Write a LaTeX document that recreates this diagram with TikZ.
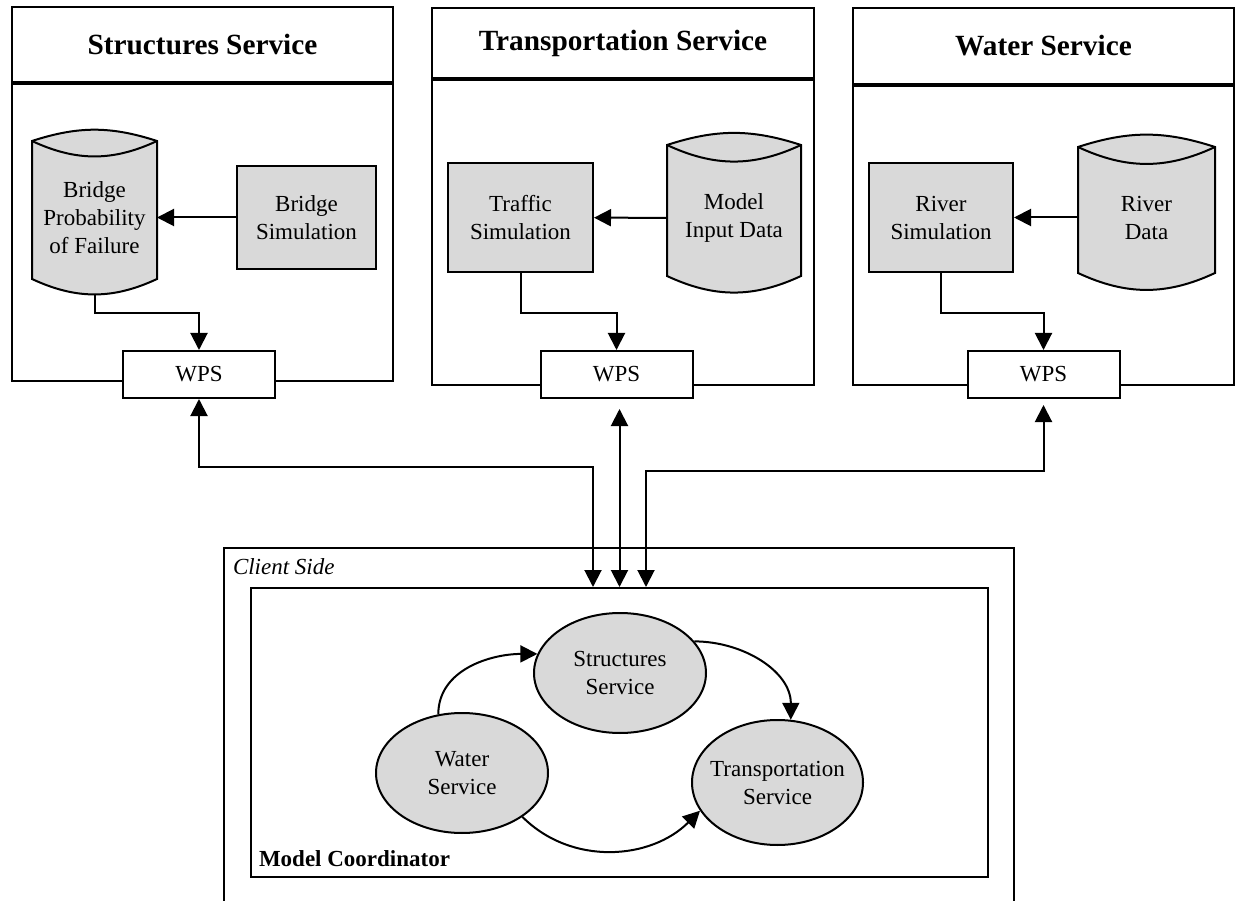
\documentclass[tikz,border=0pt]{standalone}
\usepackage{fontspec}
\setmainfont{Liberation Serif}
\usepackage{tikz}
\usetikzlibrary{calc, positioning, arrows.meta, shapes.geometric}

\newcommand{\diagfont}{\fontsize{23}{28}\selectfont}
% cylinder drawn from the anchors of an empty data node
\newcommand{\dbshape}[1]{%
    \filldraw[fill=gray!30] (#1.north west) to[bend left=18] (#1.north east) -- ($(#1.south east)+(0,15)$) to[bend left=25] ($(#1.south west)+(0,15)$) -- cycle;
    \draw (#1.north west) to[bend right=25] (#1.north east);}

\begin{document}
\begin{tikzpicture}[x=1pt, y=1pt, line width=2pt,
    svcbox/.style={rectangle, draw, anchor=north west, inner sep=0pt},
    svctitle/.style={svcbox, font=\fontsize{29.3}{32}\selectfont\bfseries},
    simbox/.style={rectangle, draw, fill=gray!30, align=center, inner sep=0pt, font=\diagfont},
    dbnode/.style={rectangle, inner sep=0pt},
    dbtext/.style={align=center, inner sep=0pt, font=\diagfont},
    wpsbox/.style={rectangle, draw, fill=white, minimum width=152pt, minimum height=47pt, inner sep=0pt, font=\diagfont},
    svcell/.style={ellipse, draw, fill=gray!30, align=center, inner xsep=-25pt, inner ysep=-15pt, font=\diagfont},
    arr/.style={-{Triangle[length=17pt,width=17pt]}},
    dblarr/.style={{Triangle[length=17pt,width=17pt]}-{Triangle[length=17pt,width=17pt]}}]
        \useasboundingbox (0,0) rectangle (1235,-901);

        % Service panels
        \node (strtitle) [svctitle, minimum width=381pt, minimum height=75pt] at (11,-6) {Structures Service};
        \node (strpanel) [svcbox, minimum width=381pt, minimum height=297pt] at (strtitle.south west) {};
        \node (trntitle) [svctitle, minimum width=382pt, minimum height=70pt] at (431,-7) {Transportation Service};
        \node (trnpanel) [svcbox, minimum width=382pt, minimum height=305pt] at (trntitle.south west) {};
        \node (wattitle) [svctitle, minimum width=381pt, minimum height=76pt] at (852,-7) {Water Service};
        \node (watpanel) [svcbox, minimum width=381pt, minimum height=299pt] at (wattitle.south west) {};

        % Nodes inside the panels
        \node (bsim) [simbox, minimum width=139pt, minimum height=103pt] at (306.5,-217.5) {Bridge\\Simulation};
        \node (tsim) [simbox, minimum width=145pt, minimum height=109pt] at (520.5,-217.5) {Traffic\\Simulation};
        \node (rsim) [simbox, minimum width=144pt, minimum height=109pt] at (941,-217.5) {River\\Simulation};

        \node (bpf) [dbnode, minimum width=123pt, minimum height=151pt] at (94.5,-217.5) {};
        \dbshape{bpf}
        \node (bpftext) [dbtext] at (bpf) {Bridge\\Probability\\of Failure};
        \node (mid) [dbnode, minimum width=132pt, minimum height=144pt] at (734,-218) {};
        \dbshape{mid}
        \node (midtext) [dbtext] at (mid) {Model\\Input Data};
        \node (rdat) [dbnode, minimum width=135pt, minimum height=139pt] at (1146.5,-217.5) {};
        \dbshape{rdat}
        \node (rdattext) [dbtext] at (rdat) {River\\Data};

        \node (swps) [wpsbox] at (199,-374.5) {WPS};
        \node (twps) [wpsbox] at (616.5,-374.5) {WPS};
        \node (wwps) [wpsbox] at (1043.5,-374.5) {WPS};

        % Client side
        \draw (224,-901) |- (1014,-548) -- (1014,-901);
        \node (client) [anchor=base west, font=\diagfont\itshape, inner sep=0pt] at (232,-574) {Client Side};
        \node (mc) [rectangle, draw, minimum width=737pt, minimum height=289pt] at (619.5,-732.5) {};
        \node (mclabel) [anchor=base west, font=\diagfont\bfseries, inner sep=0pt] at ($(mc.south west)+(8,12)$) {Model Coordinator};

        \node (sell) [svcell, minimum width=172pt, minimum height=120pt] at (620,-673) {Structures\\Service};
        \node (well) [svcell, minimum width=172pt, minimum height=120pt] at (462,-773) {Water\\Service};
        \node (tell) [svcell, minimum width=171pt, minimum height=125pt] at (777.5,-782.5) {Transportation\\Service};

        % Arrows
        \draw[arr] (bsim) -- (bpf);
        \draw[arr] (mid) -- (tsim);
        \draw[arr] (rdat) -- (rsim);
        \draw[arr] (bpf.south) -- ++(0,-19) -| (swps.north);
        \draw[arr] (tsim.south) -- ++(0,-40) -| (twps.north);
        \draw[arr] (rsim.south) -- ++(0,-40) -| (wwps.north);

        \draw[dblarr] (swps.south) |- ($(mc.north)+(-26.5,120)$) -- ($(mc.north)+(-26.5,0)$);
        \draw[dblarr, shorten <=10pt] (twps.south -| mc.north) -- (mc.north);
        \draw[dblarr, shorten >=6pt] ($(mc.north)+(26.5,0)$) |- ($(wwps.south)+(0,-72)$) -| (wwps.south);

        \draw[arr] (well.112) to[out=90, in=180] (sell.167);
        \draw[arr] (sell.23) to[out=0, in=90] (tell.78);
        \draw[arr] (well.-36) to[out=-45, in=-135] (tell.-160);
    \end{tikzpicture}
\end{document}
